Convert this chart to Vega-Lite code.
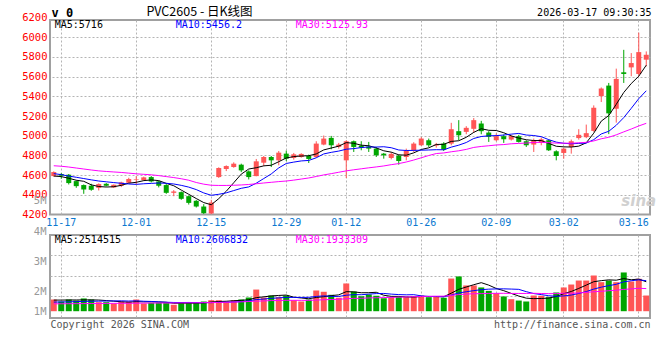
{
"$schema": "https://vega.github.io/schema/vega-lite/v6.json",
"background": "white",
"padding": {"left": 20, "top": 4, "right": 8, "bottom": 4},
"bounds": "flush",
"spacing": 20,
"config": {
  "view": {"stroke": "#a0a0a0", "strokeWidth": 2},
  "axis": {"domain": false, "ticks": false, "gridColor": "#b4b4b4", "gridDash": [2, 2], "gridWidth": 1, "labelFont": "DejaVu Sans Mono", "labelFontSize": 10, "titleFont": "DejaVu Sans Mono", "titleFontWeight": "normal", "titleFontSize": 10, "titleColor": "#000000", "labelOverlap": false},
  "text": {"font": "DejaVu Sans Mono", "fontSize": 10}
},
"datasets": {"k": [
{"d":"2025-11-14","o":4590,"h":4638,"l":4585,"c":4631,"v":1000000,"m5":4590,"m10":4615,"m30":4695,"vm5":950000,"vm10":780000,"vm30":630000},
{"d":"2025-11-17","o":4611,"h":4621,"l":4563,"c":4594,"v":830000,"m5":4585,"m10":4605,"m30":4690,"vm5":950000,"vm10":790000,"vm30":635000},
{"d":"2025-11-18","o":4604,"h":4611,"l":4505,"c":4519,"v":1000000,"m5":4568,"m10":4590,"m30":4682,"vm5":960000,"vm10":800000,"vm30":640000},
{"d":"2025-11-19","o":4539,"h":4546,"l":4471,"c":4488,"v":910000,"m5":4548,"m10":4578,"m30":4672,"vm5":960000,"vm10":820000,"vm30":645000},
{"d":"2025-11-20","o":4499,"h":4505,"l":4410,"c":4454,"v":1090000,"m5":4537,"m10":4565,"m30":4662,"vm5":966000,"vm10":840000,"vm30":650000},
{"d":"2025-11-21","o":4492,"h":4512,"l":4441,"c":4451,"v":1000000,"m5":4501,"m10":4552,"m30":4652,"vm5":966000,"vm10":850000,"vm30":655000},
{"d":"2025-11-24","o":4471,"h":4516,"l":4444,"c":4509,"v":770000,"m5":4484,"m10":4540,"m30":4643,"vm5":954000,"vm10":860000,"vm30":660000},
{"d":"2025-11-25","o":4512,"h":4519,"l":4485,"c":4492,"v":770000,"m5":4479,"m10":4532,"m30":4637,"vm5":908000,"vm10":870000,"vm30":665000},
{"d":"2025-11-26","o":4475,"h":4505,"l":4471,"c":4502,"v":660000,"m5":4482,"m10":4524,"m30":4632,"vm5":858000,"vm10":880000,"vm30":670000},
{"d":"2025-11-27","o":4492,"h":4533,"l":4478,"c":4526,"v":830000,"m5":4496,"m10":4517,"m30":4627,"vm5":806000,"vm10":886000,"vm30":675000},
{"d":"2025-11-28","o":4522,"h":4573,"l":4519,"c":4560,"v":830000,"m5":4518,"m10":4510,"m30":4620,"vm5":772000,"vm10":869000,"vm30":680000},
{"d":"2025-12-01","o":4550,"h":4590,"l":4505,"c":4556,"v":1000000,"m5":4527,"m10":4506,"m30":4613,"vm5":818000,"vm10":886000,"vm30":685000},
{"d":"2025-12-02","o":4550,"h":4584,"l":4543,"c":4577,"v":660000,"m5":4544,"m10":4512,"m30":4608,"vm5":796000,"vm10":852000,"vm30":690000},
{"d":"2025-12-03","o":4580,"h":4590,"l":4526,"c":4536,"v":720000,"m5":4551,"m10":4516,"m30":4603,"vm5":808000,"vm10":833000,"vm30":695000},
{"d":"2025-12-04","o":4536,"h":4543,"l":4475,"c":4492,"v":720000,"m5":4544,"m10":4520,"m30":4595,"vm5":786000,"vm10":796000,"vm30":700000},
{"d":"2025-12-05","o":4499,"h":4509,"l":4410,"c":4420,"v":720000,"m5":4516,"m10":4517,"m30":4585,"vm5":764000,"vm10":768000,"vm30":700000},
{"d":"2025-12-08","o":4420,"h":4448,"l":4386,"c":4434,"v":550000,"m5":4492,"m10":4510,"m30":4575,"vm5":674000,"vm10":746000,"vm30":705000},
{"d":"2025-12-09","o":4427,"h":4434,"l":4349,"c":4359,"v":720000,"m5":4448,"m10":4496,"m30":4563,"vm5":686000,"vm10":741000,"vm30":710000},
{"d":"2025-12-10","o":4386,"h":4393,"l":4301,"c":4318,"v":720000,"m5":4405,"m10":4478,"m30":4548,"vm5":686000,"vm10":747000,"vm30":715000},
{"d":"2025-12-11","o":4339,"h":4346,"l":4271,"c":4281,"v":720000,"m5":4362,"m10":4453,"m30":4525,"vm5":686000,"vm10":736000,"vm30":720000},
{"d":"2025-12-12","o":4281,"h":4305,"l":4206,"c":4213,"v":830000,"m5":4321,"m10":4419,"m30":4508,"vm5":708000,"vm10":736000,"vm30":730000},
{"d":"2025-12-15","o":4210,"h":4349,"l":4203,"c":4322,"v":940000,"m5":4299,"m10":4395,"m30":4497,"vm5":786000,"vm10":730000,"vm30":740000},
{"d":"2025-12-16","o":4580,"h":4679,"l":4572,"c":4672,"v":940000,"m5":4361,"m10":4405,"m30":4495,"vm5":830000,"vm10":758000,"vm30":750000},
{"d":"2025-12-17","o":4662,"h":4699,"l":4641,"c":4692,"v":830000,"m5":4436,"m10":4420,"m30":4495,"vm5":852000,"vm10":769000,"vm30":760000},
{"d":"2025-12-18","o":4682,"h":4730,"l":4675,"c":4716,"v":940000,"m5":4523,"m10":4443,"m30":4497,"vm5":896000,"vm10":791000,"vm30":780000},
{"d":"2025-12-19","o":4706,"h":4716,"l":4631,"c":4648,"v":1000000,"m5":4610,"m10":4466,"m30":4500,"vm5":930000,"vm10":819000,"vm30":800000},
{"d":"2025-12-22","o":4638,"h":4648,"l":4556,"c":4580,"v":1170000,"m5":4662,"m10":4480,"m30":4505,"vm5":976000,"vm10":881000,"vm30":830000},
{"d":"2025-12-23","o":4590,"h":4764,"l":4588,"c":4740,"v":1850000,"m5":4675,"m10":4518,"m30":4512,"vm5":1158000,"vm10":994000,"vm30":860000},
{"d":"2025-12-24","o":4726,"h":4794,"l":4692,"c":4784,"v":1170000,"m5":4694,"m10":4565,"m30":4520,"vm5":1226000,"vm10":1039000,"vm30":880000},
{"d":"2025-12-25","o":4784,"h":4794,"l":4682,"c":4750,"v":1340000,"m5":4700,"m10":4612,"m30":4527,"vm5":1306000,"vm10":1101000,"vm30":908000},
{"d":"2025-12-26","o":4750,"h":4845,"l":4699,"c":4828,"v":1200000,"m5":4736,"m10":4673,"m30":4534,"vm5":1346000,"vm10":1138000,"vm30":914000},
{"d":"2025-12-29","o":4818,"h":4849,"l":4743,"c":4767,"v":1340000,"m5":4774,"m10":4718,"m30":4540,"vm5":1380000,"vm10":1178000,"vm30":931000},
{"d":"2025-12-30","o":4774,"h":4825,"l":4757,"c":4811,"v":940000,"m5":4788,"m10":4732,"m30":4549,"vm5":1198000,"vm10":1178000,"vm30":929000},
{"d":"2025-12-31","o":4784,"h":4822,"l":4777,"c":4815,"v":830000,"m5":4794,"m10":4744,"m30":4560,"vm5":1130000,"vm10":1178000,"vm30":927000},
{"d":"2026-01-05","o":4794,"h":4808,"l":4723,"c":4764,"v":1000000,"m5":4797,"m10":4749,"m30":4571,"vm5":1062000,"vm10":1184000,"vm30":924000},
{"d":"2026-01-06","o":4784,"h":4944,"l":4777,"c":4920,"v":1770000,"m5":4815,"m10":4776,"m30":4586,"vm5":1176000,"vm10":1261000,"vm30":949000},
{"d":"2026-01-07","o":4910,"h":5002,"l":4903,"c":4971,"v":1660000,"m5":4856,"m10":4815,"m30":4602,"vm5":1240000,"vm10":1310000,"vm30":979000},
{"d":"2026-01-08","o":4978,"h":4998,"l":4862,"c":4903,"v":1400000,"m5":4875,"m10":4831,"m30":4615,"vm5":1332000,"vm10":1265000,"vm30":1000000},
{"d":"2026-01-09","o":4886,"h":4927,"l":4869,"c":4910,"v":1150000,"m5":4894,"m10":4844,"m30":4629,"vm5":1396000,"vm10":1263000,"vm30":1016000},
{"d":"2026-01-12","o":4750,"h":4954,"l":4570,"c":4944,"v":2370000,"m5":4930,"m10":4863,"m30":4643,"vm5":1670000,"vm10":1366000,"vm30":1068000},
{"d":"2026-01-13","o":4944,"h":4951,"l":4835,"c":4886,"v":1680000,"m5":4923,"m10":4869,"m30":4654,"vm5":1652000,"vm10":1414000,"vm30":1096000},
{"d":"2026-01-14","o":4900,"h":4944,"l":4852,"c":4879,"v":1280000,"m5":4904,"m10":4880,"m30":4664,"vm5":1576000,"vm10":1408000,"vm30":1105000},
{"d":"2026-01-15","o":4890,"h":4937,"l":4835,"c":4869,"v":1430000,"m5":4898,"m10":4886,"m30":4674,"vm5":1582000,"vm10":1457000,"vm30":1131000},
{"d":"2026-01-16","o":4869,"h":4886,"l":4784,"c":4801,"v":1320000,"m5":4876,"m10":4885,"m30":4683,"vm5":1616000,"vm10":1506000,"vm30":1151000},
{"d":"2026-01-19","o":4818,"h":4825,"l":4767,"c":4801,"v":1110000,"m5":4847,"m10":4888,"m30":4693,"vm5":1364000,"vm10":1517000,"vm30":1164000},
{"d":"2026-01-20","o":4774,"h":4832,"l":4760,"c":4815,"v":1200000,"m5":4833,"m10":4878,"m30":4706,"vm5":1268000,"vm10":1460000,"vm30":1180000},
{"d":"2026-01-21","o":4798,"h":4808,"l":4706,"c":4743,"v":1260000,"m5":4806,"m10":4855,"m30":4717,"vm5":1264000,"vm10":1420000,"vm30":1204000},
{"d":"2026-01-22","o":4784,"h":4869,"l":4750,"c":4849,"v":1200000,"m5":4802,"m10":4850,"m30":4733,"vm5":1218000,"vm10":1400000,"vm30":1220000},
{"d":"2026-01-23","o":4852,"h":4934,"l":4835,"c":4920,"v":1280000,"m5":4826,"m10":4851,"m30":4753,"vm5":1210000,"vm10":1413000,"vm30":1238000},
{"d":"2026-01-26","o":4903,"h":4985,"l":4896,"c":4971,"v":1340000,"m5":4860,"m10":4853,"m30":4776,"vm5":1256000,"vm10":1310000,"vm30":1259000},
{"d":"2026-01-27","o":4954,"h":4971,"l":4886,"c":4903,"v":1200000,"m5":4877,"m10":4855,"m30":4799,"vm5":1256000,"vm10":1262000,"vm30":1271000},
{"d":"2026-01-28","o":4900,"h":4927,"l":4879,"c":4910,"v":1230000,"m5":4911,"m10":4858,"m30":4819,"vm5":1250000,"vm10":1257000,"vm30":1281000},
{"d":"2026-01-29","o":4920,"h":4934,"l":4845,"c":4859,"v":1150000,"m5":4913,"m10":4857,"m30":4825,"vm5":1240000,"vm10":1229000,"vm30":1288000},
{"d":"2026-01-30","o":4920,"h":5131,"l":4903,"c":5066,"v":2790000,"m5":4942,"m10":4884,"m30":4837,"vm5":1542000,"vm10":1376000,"vm30":1353000},
{"d":"2026-02-02","o":5046,"h":5158,"l":4954,"c":5005,"v":2970000,"m5":4949,"m10":4904,"m30":4847,"vm5":1868000,"vm10":1562000,"vm30":1421000},
{"d":"2026-02-03","o":5039,"h":5097,"l":5015,"c":5080,"v":2200000,"m5":4984,"m10":4931,"m30":4861,"vm5":2068000,"vm10":1662000,"vm30":1461000},
{"d":"2026-02-04","o":5070,"h":5179,"l":5029,"c":5158,"v":2200000,"m5":5034,"m10":4972,"m30":4881,"vm5":2262000,"vm10":1756000,"vm30":1495000},
{"d":"2026-02-05","o":5124,"h":5151,"l":5015,"c":5046,"v":2030000,"m5":5071,"m10":4992,"m30":4891,"vm5":2438000,"vm10":1839000,"vm30":1501000},
{"d":"2026-02-06","o":5032,"h":5046,"l":4937,"c":4988,"v":1740000,"m5":5055,"m10":4999,"m30":4898,"vm5":2228000,"vm10":1885000,"vm30":1520000},
{"d":"2026-02-09","o":4954,"h":5022,"l":4944,"c":4995,"v":1540000,"m5":5053,"m10":5001,"m30":4906,"vm5":1942000,"vm10":1905000,"vm30":1527000},
{"d":"2026-02-10","o":4995,"h":5012,"l":4927,"c":4964,"v":1260000,"m5":5030,"m10":5007,"m30":4910,"vm5":1754000,"vm10":1911000,"vm30":1529000},
{"d":"2026-02-11","o":4961,"h":5005,"l":4951,"c":4995,"v":1030000,"m5":4998,"m10":5016,"m30":4918,"vm5":1520000,"vm10":1891000,"vm30":1519000},
{"d":"2026-02-12","o":4995,"h":5009,"l":4930,"c":4937,"v":910000,"m5":4976,"m10":5023,"m30":4922,"vm5":1296000,"vm10":1867000,"vm30":1518000},
{"d":"2026-02-13","o":4944,"h":4954,"l":4886,"c":4903,"v":830000,"m5":4959,"m10":5007,"m30":4925,"vm5":1114000,"vm10":1671000,"vm30":1518000},
{"d":"2026-02-24","o":4910,"h":4971,"l":4835,"c":4954,"v":1340000,"m5":4951,"m10":5002,"m30":4932,"vm5":1074000,"vm10":1508000,"vm30":1529000},
{"d":"2026-02-25","o":4930,"h":4981,"l":4903,"c":4964,"v":1320000,"m5":4951,"m10":4990,"m30":4933,"vm5":1086000,"vm10":1420000,"vm30":1514000},
{"d":"2026-02-26","o":4954,"h":4961,"l":4845,"c":4852,"v":1200000,"m5":4922,"m10":4960,"m30":4929,"vm5":1120000,"vm10":1320000,"vm30":1499000},
{"d":"2026-02-27","o":4842,"h":4852,"l":4750,"c":4794,"v":1600000,"m5":4893,"m10":4935,"m30":4925,"vm5":1258000,"vm10":1277000,"vm30":1505000},
{"d":"2026-03-02","o":4825,"h":4879,"l":4767,"c":4869,"v":2030000,"m5":4887,"m10":4923,"m30":4924,"vm5":1498000,"vm10":1306000,"vm30":1535000},
{"d":"2026-03-03","o":4886,"h":4961,"l":4818,"c":4944,"v":2280000,"m5":4885,"m10":4918,"m30":4924,"vm5":1686000,"vm10":1380000,"vm30":1532000},
{"d":"2026-03-04","o":4976,"h":5066,"l":4960,"c":5009,"v":2620000,"m5":4894,"m10":4922,"m30":4928,"vm5":1946000,"vm10":1516000,"vm30":1563000},
{"d":"2026-03-05","o":4985,"h":5113,"l":4975,"c":5026,"v":2620000,"m5":4928,"m10":4925,"m30":4933,"vm5":2230000,"vm10":1675000,"vm30":1608000},
{"d":"2026-03-06","o":5049,"h":5308,"l":5040,"c":5284,"v":3050000,"m5":5026,"m10":4960,"m30":4947,"vm5":2520000,"vm10":1889000,"vm30":1662000},
{"d":"2026-03-09","o":5402,"h":5490,"l":5342,"c":5479,"v":2480000,"m5":5148,"m10":5018,"m30":4969,"vm5":2610000,"vm10":2054000,"vm30":1700000},
{"d":"2026-03-10","o":5509,"h":5536,"l":5016,"c":5227,"v":2620000,"m5":5205,"m10":5045,"m30":4984,"vm5":2678000,"vm10":2182000,"vm30":1751000},
{"d":"2026-03-11","o":5274,"h":5681,"l":5133,"c":5577,"v":2480000,"m5":5319,"m10":5106,"m30":5009,"vm5":2650000,"vm10":2298000,"vm30":1793000},
{"d":"2026-03-12","o":5644,"h":5872,"l":5536,"c":5627,"v":3310000,"m5":5439,"m10":5184,"m30":5039,"vm5":2788000,"vm10":2509000,"vm30":1862000},
{"d":"2026-03-13","o":5694,"h":5839,"l":5604,"c":5738,"v":2540000,"m5":5530,"m10":5278,"m30":5068,"vm5":2686000,"vm10":2603000,"vm30":1906000},
{"d":"2026-03-16","o":5627,"h":6047,"l":5604,"c":5849,"v":2770000,"m5":5604,"m10":5376,"m30":5099,"vm5":2744000,"vm10":2677000,"vm30":1956000},
{"d":"2026-03-17","o":5772,"h":5856,"l":5704,"c":5822,"v":1340000,"m5":5716,"m10":5456.2,"m30":5125.93,"vm5":2514515,"vm10":2606832,"vm30":1933309}
]},
"vconcat": [
{
  "width": 600, "height": 194.5,
  "data": {"name": "k"},
  "encoding": {"x": {"field": "d", "type": "ordinal", "scale": {"type": "band", "paddingInner": 0, "paddingOuter": 0},
    "axis": {"values": ["2025-11-17","2025-12-01","2025-12-15","2025-12-29","2026-01-12","2026-01-26","2026-02-09","2026-03-02","2026-03-16"],
      "labelExpr": "substring(datum.label, 5)", "labelColor": "#0a78d0", "labelPadding": 3, "labelAngle": 0, "grid": true,
      "labelOffset": {"condition": {"test": "datum.value === '2026-03-16'", "value": -5}, "value": 0},
      "title": "2026-03-17 09:30:35", "titleX": 601, "titleY": -202.5, "titleAlign": "right", "titleBaseline": "middle"}}},
  "layer": [
    {"mark": {"type": "rule", "strokeWidth": 1},
     "encoding": {
       "y": {"field": "l", "type": "quantitative", "scale": {"domain": [4200, 6175], "nice": false, "zero": false},
         "axis": {"values": [4200,4400,4600,4800,5000,5200,5400,5600,5800,6000,6175], "format": "d",
           "labelExpr": "datum.value > 6100 ? '6200' : datum.label",
           "labelOffset": {"condition": {"test": "datum.value > 6100", "value": -2.5}, "value": 0},
           "grid": false, "labelColor": "#ff0000", "labelFontSize": 10.5, "labelPadding": 3,
           "title": "v 0", "titleAngle": 0, "titleX": 1, "titleY": -8, "titleAlign": "left", "titleBaseline": "middle", "titleFontWeight": "bold", "titleFontSize": 12}},
       "y2": {"field": "h"},
       "color": {"condition": {"test": "datum.c >= datum.o", "value": "#ff5555"}, "value": "#00a600"}}},
    {"mark": {"type": "bar", "width": 5},
     "encoding": {
       "y": {"field": "o", "type": "quantitative", "axis": null},
       "y2": {"field": "c"},
       "color": {"condition": {"test": "datum.c >= datum.o", "value": "#ff5555"}, "value": "#00a600"}}},
    {"mark": {"type": "line", "color": "#000000", "strokeWidth": 1},
     "encoding": {"y": {"field": "m5", "type": "quantitative",
       "axis": {"orient": "right", "labels": false, "grid": true, "values": [4400,4600,4800,5000,5200,5400,5600,5800,6000],
         "title": "PVC2605 - 日K线图", "titleX": -451, "titleY": -8.5, "titleAngle": 0, "titleAlign": "center", "titleBaseline": "middle", "titleFont": "Noto Sans CJK SC", "titleFontSize": 12.5}}}},
    {"mark": {"type": "line", "color": "#0000ff", "strokeWidth": 1},
     "encoding": {"y": {"field": "m10", "type": "quantitative", "axis": null}}},
    {"mark": {"type": "line", "color": "#ff00ff", "strokeWidth": 1},
     "encoding": {"y": {"field": "m30", "type": "quantitative", "axis": null}}},
    {"data": {"values": [{"t": "MA5:5716"}]},
     "mark": {"type": "text", "align": "left", "baseline": "middle", "dx": 1, "color": "#000000"},
     "encoding": {"x": {"datum": "2025-11-14", "type": "ordinal"}, "y": {"datum": 6128, "type": "quantitative", "axis": null}, "text": {"field": "t"}}},
    {"data": {"values": [{"t": "MA10:5456.2"}]},
     "mark": {"type": "text", "align": "left", "baseline": "middle", "dx": 2, "color": "#0000ff"},
     "encoding": {"x": {"datum": "2025-12-08", "type": "ordinal"}, "y": {"datum": 6128, "type": "quantitative", "axis": null}, "text": {"field": "t"}}},
    {"data": {"values": [{"t": "MA30:5125.93"}]},
     "mark": {"type": "text", "align": "left", "baseline": "middle", "dx": 2, "color": "#ff00ff"},
     "encoding": {"x": {"datum": "2025-12-30", "type": "ordinal"}, "y": {"datum": 6128, "type": "quantitative", "axis": null}, "text": {"field": "t"}}},
    {"data": {"values": [{"t": "sina"}]},
     "mark": {"type": "text", "align": "center", "baseline": "middle", "font": "DejaVu Sans", "fontStyle": "italic", "fontWeight": "bold", "fontSize": 15, "color": "#d0d0d0"},
     "encoding": {"x": {"datum": "2026-03-16", "type": "ordinal"}, "y": {"datum": 4335, "type": "quantitative", "axis": null}, "text": {"field": "t"}}}
  ],
  "resolve": {"axis": {"y": "independent"}}
},
{
  "width": 600, "height": 83,
  "data": {"name": "k"},
  "encoding": {"x": {"field": "d", "type": "ordinal", "scale": {"type": "band", "paddingInner": 0, "paddingOuter": 0},
    "axis": {"values": ["2025-11-17","2025-12-01","2025-12-15","2025-12-29","2026-01-12","2026-01-26","2026-02-09","2026-03-02","2026-03-16"],
      "labels": false, "grid": true,
      "title": "Copyright 2026 SINA.COM", "titleX": 0, "titleY": 6, "titleAlign": "left", "titleBaseline": "middle", "titleColor": "#555555"}}},
  "layer": [
    {"mark": {"type": "bar", "width": 6},
     "encoding": {
       "y": {"field": "v", "type": "quantitative", "scale": {"domain": [-580000, 6510000], "nice": false, "zero": false},
         "axis": {"values": [-30000, 1680000, 4240000, 6500000, 6510000],
           "labelExpr": "datum.value < 1000000 ? '1M' : datum.value < 3000000 ? '2M' : datum.value < 5000000 ? '3M' : datum.value < 6505000 ? '4M' : '5M'",
           "labelOffset": {"condition": [{"test": "datum.value > 6505000", "value": -34.5}, {"test": "datum.value > 6000000", "value": -4}], "value": 0},
           "grid": false, "labelColor": "#999999", "labelFontSize": 10.5, "labelPadding": 4,
           "title": "http://finance.sina.com.cn", "titleX": 600, "titleY": 89, "titleAngle": 0, "titleAlign": "right", "titleBaseline": "middle", "titleColor": "#555555"}},
       "y2": {"datum": 0},
       "color": {"condition": {"test": "datum.c >= datum.o", "value": "#ff5555"}, "value": "#00a600"}}},
    {"mark": {"type": "line", "color": "#000000", "strokeWidth": 1},
     "encoding": {"y": {"field": "vm5", "type": "quantitative",
       "axis": {"orient": "left", "labels": false, "grid": true, "values": [1270000, 2990000, 4760000], "title": null}}}},
    {"mark": {"type": "line", "color": "#0000ff", "strokeWidth": 1},
     "encoding": {"y": {"field": "vm10", "type": "quantitative", "axis": null}}},
    {"mark": {"type": "line", "color": "#ff00ff", "strokeWidth": 1},
     "encoding": {"y": {"field": "vm30", "type": "quantitative", "axis": null}}},
    {"data": {"values": [{"t": "MA5:2514515"}]},
     "mark": {"type": "text", "align": "left", "baseline": "middle", "dx": 1, "color": "#000000"},
     "encoding": {"x": {"datum": "2025-11-14", "type": "ordinal"}, "y": {"datum": 6120000, "type": "quantitative", "axis": null}, "text": {"field": "t"}}},
    {"data": {"values": [{"t": "MA10:2606832"}]},
     "mark": {"type": "text", "align": "left", "baseline": "middle", "dx": 2, "color": "#0000ff"},
     "encoding": {"x": {"datum": "2025-12-08", "type": "ordinal"}, "y": {"datum": 6120000, "type": "quantitative", "axis": null}, "text": {"field": "t"}}},
    {"data": {"values": [{"t": "MA30:1933309"}]},
     "mark": {"type": "text", "align": "left", "baseline": "middle", "dx": 2, "color": "#ff00ff"},
     "encoding": {"x": {"datum": "2025-12-30", "type": "ordinal"}, "y": {"datum": 6120000, "type": "quantitative", "axis": null}, "text": {"field": "t"}}}
  ],
  "resolve": {"axis": {"y": "independent"}}
}
]
}
